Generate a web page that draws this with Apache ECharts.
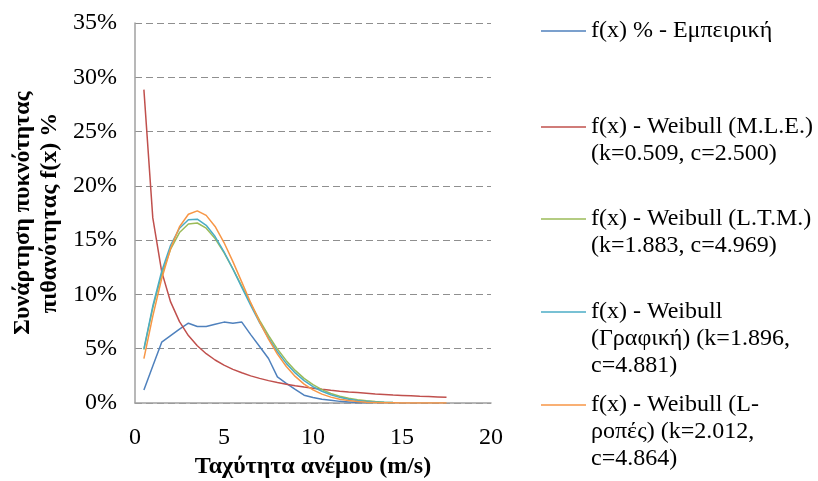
<!DOCTYPE html>
<html>
<head>
<meta charset="utf-8">
<script src="https://cdn.jsdelivr.net/npm/echarts@6/dist/echarts.min.js"></script>
<style>html,body{margin:0;padding:0;background:#fff}#chart{width:818px;height:481px}</style>
</head>
<body>
<div id="chart"></div>
<script>
// Wind speed (m/s) sample points
const windSpeed = [0.5,1,1.5,2,2.5,3,3.5,4,4.5,5,5.5,6,6.5,7,7.5,8,8.5,9,9.5,10,10.5,11,11.5,12,12.5,13,13.5,14,14.5,15,15.5,16,16.5,17,17.5];

const seriesNames = [
  "f(x) % - Εμπειρική",
  "f(x) - Weibull (M.L.E.)\n(k=0.509, c=2.500)",
  "f(x) - Weibull (L.T.M.)\n(k=1.883, c=4.969)",
  "f(x) - Weibull\n(Γραφική) (k=1.896,\nc=4.881)",
  "f(x) - Weibull (L-\nροπές) (k=2.012,\nc=4.864)"
];

// values in %
const empirical = [1.2,3.4,5.6,6.2,6.8,7.35,7.05,7.05,7.25,7.45,7.35,7.45,6.3,5.2,4.1,2.4,1.8,1.25,0.72,0.5,0.35,0.25,0.15,0.1,0.05,0.02];
const weibullMLE = [28.86,17.05,12.10,9.31,7.49,6.21,5.27,4.54,3.96,3.49,3.10,2.78,2.50,2.27,2.06,1.89,1.73,1.59,1.47,1.36,1.26,1.17,1.09,1.02,0.96,0.90,0.84,0.79,0.74,0.70,0.66,0.62,0.59,0.56,0.53];
const weibullLTM = [4.92,8.76,11.85,14.17,15.70,16.49,16.58,16.10,15.14,13.85,12.35,10.75,9.15,7.62,6.22,4.97,3.90,3.00,2.27,1.69,1.23,0.88,0.62,0.43,0.29,0.20,0.13,0.08,0.05];
const weibullGraph = [4.98,8.93,12.13,14.53,16.10,16.88,16.93,16.37,15.33,13.93,12.34,10.65,8.98,7.40,5.97,4.72,3.65,2.77,2.06,1.50,1.08,0.76,0.52,0.35,0.24,0.15,0.10,0.06,0.04];
const weibullLMom = [4.09,8.00,11.45,14.23,16.23,17.38,17.70,17.28,16.26,14.78,13.02,11.13,9.24,7.47,5.88,4.50,3.36,2.45,1.74,1.21,0.82,0.54,0.35,0.22,0.13,0.08,0.05,0.03,0.02,0.01,0,0,0,0,0];

const xTicks = [0,5,10,15,20];
const yTickStep = 5;

const colors = ['#4F81BD','#C0504D','#9BBB59','#4BACC6','#F79646'];
const seriesValues = [empirical, weibullMLE, weibullLTM, weibullGraph, weibullLMom];

const FONT = "'Liberation Serif','Times New Roman',serif";

function pairs(vals){ return vals.map((v,i)=>[windSpeed[i], v]); }

// place the key line beside the first text line: prepend blank lines so the block centre sits on line 1
function firstLineKey(name){
  const n = name.split('\n').length;
  return '\n'.repeat(n-1) + name;
}

const legendTops = [17.5, 86.5, 178.5, 244.5, 337.5];

const legends = seriesNames.map((n,i)=>({
  left: 541, top: legendTops[i], padding: 0, orient: 'vertical',
  itemWidth: 45, itemHeight: 1.5, icon: 'rect', selectedMode: false,
  data: [n],
  formatter: firstLineKey,
  textStyle: { fontFamily: FONT, fontSize: 24, lineHeight: 27, color: '#000' }
}));

const chart = echarts.init(document.getElementById('chart'), null, {renderer:'canvas'});
chart.setOption({
  animation: false,
  color: colors,
  grid: { left: 135, right: 327, top: 23, bottom: 78, containLabel: false, outerBoundsMode: 'none' },
  legend: legends,
  xAxis: {
    type: 'value', min: xTicks[0], max: xTicks[xTicks.length-1], interval: 5,
    name: 'Ταχύτητα ανέμου (m/s)', nameLocation: 'middle', nameGap: 52,
    nameTextStyle: { fontFamily: FONT, fontSize: 24, fontWeight: 'bold', color: '#000' },
    axisLine: { show: true, lineStyle: { color: '#a0a0a0', width: 1.5 } },
    axisTick: { show: false },
    splitLine: { show: false },
    axisLabel: { fontFamily: FONT, fontSize: 24, color: '#000', margin: 23 }
  },
  yAxis: {
    type: 'value', min: 0, max: 35, interval: yTickStep,
    name: 'Συνάρτηση πυκνότητας\nπιθανότητας f(x) %', nameLocation: 'middle', nameRotate: 90, nameGap: 72,
    nameTextStyle: { fontFamily: FONT, fontSize: 24, fontWeight: 'bold', color: '#000', lineHeight: 27 },
    axisLine: { show: true, lineStyle: { color: '#a0a0a0', width: 1.5 } },
    axisTick: { show: false },
    splitLine: { show: true, lineStyle: { color: '#8f8f8f', width: 1, type: [7,4] } },
    axisLabel: { fontFamily: FONT, fontSize: 24, color: '#000', margin: 18, formatter: '{value}%' }
  },
  series: seriesValues.map((vals,i)=>({
    name: seriesNames[i], type: 'line', data: pairs(vals),
    symbol: 'none', smooth: false,
    lineStyle: { width: 1.5, color: colors[i] },
    itemStyle: { color: colors[i] }
  }))
});
</script>
</body>
</html>
